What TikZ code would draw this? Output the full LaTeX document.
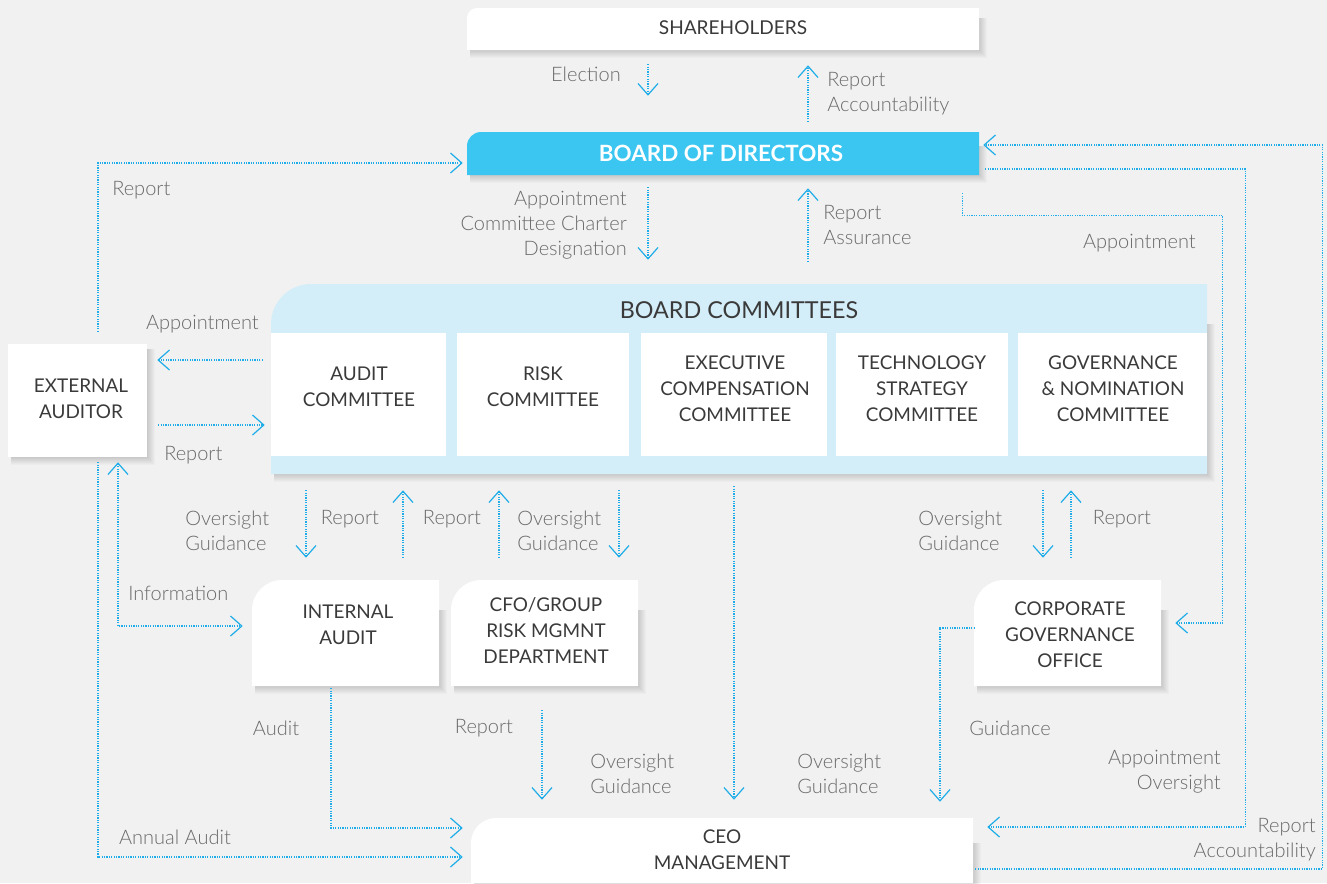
\documentclass[tikz,border=0pt]{standalone}
\usepackage{fontspec}
\setmainfont{Lato}
\newfontfamily\lightf{Lato Light}
\usetikzlibrary{arrows.meta,calc,fit}
\definecolor{bgc}{HTML}{F1F1F1}
\definecolor{bodc}{HTML}{3BC6F2}
\definecolor{panelc}{HTML}{D4EEF9}
\definecolor{linec}{HTML}{1EADE8}
\definecolor{boxc}{HTML}{3A3A3A}
\definecolor{lblc}{HTML}{6A6A6A}
\tikzset{
  conn/.style={draw=linec, line width=0.9pt, dash pattern=on 0.9pt off 0.9pt,
    >={Straight Barb[length=8.5pt,width=15pt,line width=0.9pt]}, ->},
  lbl/.style={font=\lightf\fontsize{15}{18.75}\selectfont, text=lblc, inner sep=0pt},
  boxtxt/.style={font=\fontsize{14.2}{19.5}\selectfont, text=boxc, align=center, inner sep=0pt},
  fitbox/.style={inner sep=0pt},
}
\newcommand\plainbox[5]{%
  \foreach \s in {1,...,8}{\fill[black,opacity=0.02] (#2+3,#3+5) rectangle (#4+\s,#5+\s);}%
  \fill[white] (#2,#3) rectangle (#4,#5);%
  \node[fitbox,fit={(#2,#3) (#4,#5)}] (#1) {};}
\newcommand\roundbox[7]{%
  \foreach \s in {1,...,8}{\fill[black,opacity=0.02] (#2+3,#3+#6) rectangle (#4+\s,#5+\s);}%
  \fill[#7] (#2,#5) -- (#2,#3+#6) .. controls (#2,#3+0.448*#6) and (#2+0.448*#6,#3) .. (#2+#6,#3) -- (#4,#3) -- (#4,#5) -- cycle;%
  \node[fitbox,fit={(#2,#3) (#4,#5)}] (#1) {};}
\begin{document}
\begin{tikzpicture}[x=0.75pt,y=-0.75pt]
\useasboundingbox (0,0) rectangle (1327,883);
\fill[bgc] (0,0) rectangle (1327,883);

% boxes
\roundbox{sh}{467}{8}{979}{50}{10}{white}
\roundbox{bod}{467}{132}{979}{175}{14}{bodc}
\roundbox{bc}{271}{284}{1207}{474}{40}{panelc}
\fill[white] (271,333) rectangle (446,456); \node[fitbox,fit={(271,333) (446,456)}] (ac) {};
\fill[white] (457,333) rectangle (629,456); \node[fitbox,fit={(457,333) (629,456)}] (rc) {};
\fill[white] (641,333) rectangle (827,456); \node[fitbox,fit={(641,333) (827,456)}] (ec) {};
\fill[white] (836,333) rectangle (1008,456); \node[fitbox,fit={(836,333) (1008,456)}] (tc) {};
\fill[white] (1018,333) rectangle (1207,456); \node[fitbox,fit={(1018,333) (1207,456)}] (gc) {};
\plainbox{ext}{8}{344}{147}{457}
\roundbox{ia}{252}{580}{439}{686}{30}{white}
\roundbox{cfo}{451}{580}{638}{686}{30}{white}
\roundbox{cgo}{974}{580}{1161}{686}{30}{white}
\roundbox{ceo}{471}{818}{973}{883}{25}{white}

% box texts
\node[boxtxt, font=\fontsize{14.3}{19.5}\selectfont] (shT) at (733,27.5) {SHAREHOLDERS};
\node[boxtxt, text=white, font=\bfseries\fontsize{16.8}{20}\selectfont] (bodT) at (721,153) {BOARD OF DIRECTORS};
\node[boxtxt, font=\fontsize{17.5}{21}\selectfont] (bcT) at (739,310) {BOARD COMMITTEES};
\node[boxtxt] (acT) at (359,387) {AUDIT\\COMMITTEE};
\node[boxtxt] (rcT) at (543,387) {RISK\\COMMITTEE};
\node[boxtxt] (ecT) at (735,388.5) {EXECUTIVE\\COMPENSATION\\COMMITTEE};
\node[boxtxt] (tcT) at (922,388.5) {TECHNOLOGY\\STRATEGY\\COMMITTEE};
\node[boxtxt] (gcT) at (1113,388.5) {GOVERNANCE\\\& NOMINATION\\COMMITTEE};
\node[boxtxt] (extT) at (81,398.5) {EXTERNAL\\AUDITOR};
\node[boxtxt] (iaT) at (348,624.5) {INTERNAL\\AUDIT};
\node[boxtxt] (cfoT) at (546,630.5) {CFO/GROUP\\RISK MGMNT\\DEPARTMENT};
\node[boxtxt] (cgoT) at (1070,635) {CORPORATE\\GOVERNANCE\\OFFICE};
\node[boxtxt] (ceoT) at (722,849.5) {CEO\\MANAGEMENT};

% connectors
\draw[conn] ($(sh.south)+(-75,14)$) -- ($(bod.north)+(-75,-36)$);
\draw[conn] ($(bod.north)+(85,-10)$) -- ($(sh.south)+(85,15)$);
\draw[conn] ($(bod.south)+(-75,12)$) -- ($(bc.north)+(-91,-24)$);
\draw[conn] ($(bc.north)+(69,-22)$) -- ($(bod.south)+(85,13)$);
\draw[conn] ($(ext.north)+(20.5,-12)$) |- ($(bod.west)+(-4,9.5)$);
\draw[conn] ($(bc.west)+(-8,-19)$) -- ($(ext.east)+(10,-40.5)$);
\draw[conn] ($(ext.east)+(11,24.5)$) -- ($(bc.west)+(-6,46)$);
\draw[conn] ($(ext.south)+(20.5,5)$) |- ($(ceo.west)+(-8,6.5)$);
\draw[conn,<->] ($(ext.south)+(40.5,5)$) |- ($(ia.west)+(-9,-7)$);
\draw[conn] ($(ia.south)+(-14.5,2)$) |- ($(ceo.west)+(-8,-22.5)$);
\draw[conn] ($(cfo.south)+(-2.5,24)$) -- ($(ceo.north)+(-180,-18)$);
\draw[conn] ($(bc.south)+(-5,12)$) -- ($(ceo.north)+(12,-18)$);
\draw[conn] ($(cgo.west)+(1,-5)$) -| ($(ceo.north)+(218,-16)$);
\draw[conn] ($(bod.east)+(6,15.5)$) -| ($(ceo.east)+(272,-23.5)$) -- ($(ceo.east)+(14,-23.5)$);
\draw[conn] ($(ceo.east)+(2,18.5)$) -| ($(bod.east)+(343,-8.5)$) -- ($(bod.east)+(4,-8.5)$);
\draw[conn] ($(bod.south east)+(-17,18)$) |- ($(bod.south east)+(243,40)$) |- ($(cgo.east)+(14,-10)$);
\draw[conn] ($(ac.south)+(-52.5,34)$) -- ($(ia.north)+(-39.5,-22)$);
\draw[conn] ($(ia.north)+(57.5,-22)$) -- ($(ac.south)+(44.5,34)$);
\draw[conn] ($(cfo.north)+(-45.5,-22)$) -- ($(rc.south)+(-44,34)$);
\draw[conn] ($(rc.south)+(76,34)$) -- ($(cfo.north)+(74.5,-22)$);
\draw[conn] ($(gc.south)+(-69.5,34)$) -- ($(cgo.north)+(-24.5,-22)$);
\draw[conn] ($(cgo.north)+(3.5,-22)$) -- ($(gc.south)+(-41.5,34)$);

% labels
\node[lbl, anchor=east] (l1) at (621,74) {Election};
\node[lbl, anchor=west, align=left] (l2) at (827,93.5) {Report\\Accountability};
\node[lbl, anchor=east, align=right] (l3) at (627,225) {Appointment\\Committee Charter\\Designation};
\node[lbl, anchor=west, align=left] (l4) at (823,224.5) {Report\\Assurance};
\node[lbl, anchor=west] (l5) at (112,190) {Report};
\node[lbl, anchor=east] (l6) at (259,324) {Appointment};
\node[lbl, anchor=west] (l7) at (164,455) {Report};
\node[lbl, anchor=west, align=left] (l8) at (185,531) {Oversight\\Guidance};
\node[lbl] (l9) at (350,519) {Report};
\node[lbl] (l10) at (452,519) {Report};
\node[lbl, anchor=west, align=left] (l11) at (517,531) {Oversight\\Guidance};
\node[lbl, anchor=west, align=left] (l12) at (918,531) {Oversight\\Guidance};
\node[lbl] (l13) at (1122,519) {Report};
\node[lbl, anchor=west] (l14) at (128,593) {Information};
\node[lbl] (l15) at (276,728) {Audit};
\node[lbl] (l16) at (484,728) {Report};
\node[lbl, anchor=west, align=left] (l17) at (590,774) {Oversight\\Guidance};
\node[lbl, anchor=west, align=left] (l18) at (797,774) {Oversight\\Guidance};
\node[lbl] (l19) at (1010,728) {Guidance};
\node[lbl, anchor=east] (l20) at (1196,243) {Appointment};
\node[lbl, anchor=east, align=right] (l21) at (1221,771.5) {Appointment\\Oversight};
\node[lbl, anchor=east, align=right] (l22) at (1316,839.5) {Report\\Accountability};
\node[lbl] (l23) at (175,837) {Annual Audit};
\end{tikzpicture}
\end{document}
